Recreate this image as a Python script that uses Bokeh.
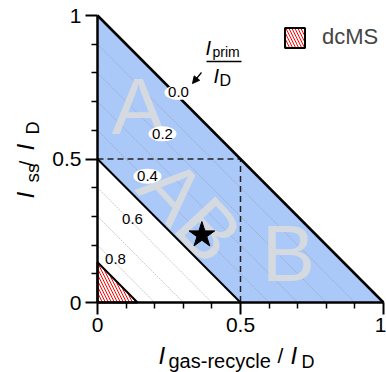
import math
from bokeh.plotting import figure
from bokeh.models import (Range1d, FixedTicker, Label, Legend, LegendItem, Arrow,
                          NormalHead, ColumnDataSource, NumeralTickFormatter)
from bokeh.embed import file_html
from bokeh.resources import INLINE
from bokeh.core.properties import value

# ---------------- data ----------------
axis_ticks = [0, 0.5, 1]
axis_minor_ticks = [0.1, 0.2, 0.3, 0.4, 0.6, 0.7, 0.8, 0.9]
guide_levels = [0.1, 0.2, 0.3, 0.4, 0.6, 0.7, 0.8, 0.9]   # lines x + y = level
band_low = 0.5          # x + y = 0.5 boundary
band_high = 1.0         # x + y = 1 boundary
dcms_limit = 0.14       # dcMS triangle x + y <= 0.14
prim_levels = [0.0, 0.2, 0.4, 0.6, 0.8]   # I_prim / I_D labels
prim_texts = ["0.0", "0.2", "0.4", "0.6", "0.8"]
prim_boxed = [True, True, True, False, False]
star_x = [0.365]
star_y = [0.235]
region_names = ["A", "AB", "B"]

# ---------------- layout helpers ----------------
FONT = "Liberation Sans"
W, H = 386, 372
L0, T0, FW, FH = 97, 15, 286, 287   # where x=0 / y=1 sit on the page, and px per unit
def X(px):
    return (px - L0) / FW
def Y(py):
    return (T0 + FH - py) / FH

p = figure(width=W, height=H, x_range=Range1d(X(0), X(W)), y_range=Range1d(Y(H), Y(0)),
           output_backend="svg", toolbar_location=None, min_border=0)
p.outline_line_color = None
p.xgrid.visible = False
p.ygrid.visible = False
p.background_fill_color = "white"

for ax in (p.xaxis[0], p.yaxis[0]):
    ax.fixed_location = 0
    ax.bounds = (0, 1)
    ax.ticker = FixedTicker(ticks=axis_ticks, minor_ticks=axis_minor_ticks)
    ax.formatter = NumeralTickFormatter(format="0.[0]")
    ax.axis_line_width = 2.5
    ax.axis_line_color = "black"
    ax.major_tick_line_width = 2
    ax.minor_tick_line_width = 1.5
    ax.major_tick_out = 12
    ax.major_tick_in = 0
    ax.minor_tick_out = 6
    ax.minor_tick_in = 0
    ax.major_label_text_font = FONT
    ax.major_label_text_font_size = "21px"
    ax.major_label_text_color = "black"
p.xaxis.major_label_standoff = 3
p.yaxis.major_label_standoff = 4

# blue band between x+y=0.5 and x+y=1
band = ColumnDataSource(dict(x=[0, 0, band_high, band_low], y=[band_low, band_high, 0, 0]))
p.patch("x", "y", source=band, fill_color="#abc9f8", line_color=None)

# guide lines x + y = const
p.multi_line(xs=[[0, v] for v in guide_levels], ys=[[v, 0] for v in guide_levels],
             line_color="#909090", line_width=0.7, line_dash="2 1", line_alpha=0.7)

# big region letters
reg_x = [X(138), X(190), X(288)]
reg_y = [Y(106), Y(210), Y(253)]
reg_a = [0, -math.radians(47), 0]
p.text(x=reg_x, y=reg_y, text=region_names, angle=reg_a, text_font=value(FONT),
       text_font_size="80px", text_color="#dcdcdc", text_alpha=0.85,
       text_align="center", text_baseline="middle")

# dcMS triangle
dcms = ColumnDataSource(dict(x=[0, 0, dcms_limit], y=[0, dcms_limit, 0]))
tri = p.patch("x", "y", source=dcms, fill_color="white", line_color="black", line_width=2,
              hatch_pattern="\\", hatch_color="red", hatch_scale=6, hatch_weight=1)

# dashed box
p.line(x=[0, band_low, band_low], y=[band_low, band_low, 0], line_color="#222222",
       line_width=1.5, line_dash="6 4")

# solid boundaries
p.line(x=[0, band_high], y=[band_high, 0], line_color="black", line_width=2.5)
p.line(x=[0, band_low], y=[band_low, 0], line_color="black", line_width=2)

# I_prim labels
lab_x = [X(178), X(162), X(147), X(132), X(115)]
lab_y = [1 - lv - lx + 0.015 for lv, lx in zip(prim_levels, lab_x)]
bx = [x for x, b in zip(lab_x, prim_boxed) if b]
by = [y for y, b in zip(lab_y, prim_boxed) if b]
p.ellipse(x=bx, y=by, width=28, height=15, width_units="screen", height_units="screen",
          fill_color="white", line_color=None)
p.text(x=lab_x, y=lab_y, text=prim_texts, text_font=value(FONT), text_font_size="15px",
       text_color="black", text_align="center", text_baseline="middle")

# star
p.scatter(x=star_x, y=star_y, marker="star", size=27, fill_color="black", line_color="black")

# fraction annotation I_prim / I_D
p.segment(x0=[X(206)], y0=[Y(61)], x1=[X(241)], y1=[Y(61)], line_color="black", line_width=1.5)
K = 0.32   # empirical baseline correction (fraction of font size)
def lab(text, px, py, size, italic=False, rotated=False):
    if rotated:
        px = px - K * size
    else:
        py = py - K * size
    p.add_layout(Label(x=X(px), y=Y(py), text=text, text_font=FONT, text_font_size=f"{size}px",
                       text_font_style="italic" if italic else "normal", text_color="black",
                       text_align="left", text_baseline="alphabetic",
                       angle=math.pi / 2 if rotated else 0.0))
lab("I", 205, 54, 20, True)
lab("prim", 212, 56, 14)
lab("I", 213, 82, 20, True)
lab("D", 219, 85, 16)
p.add_layout(Arrow(end=NormalHead(size=7, fill_color="black", line_color="black"),
                   x_start=X(201), y_start=Y(72), x_end=X(192), y_end=Y(83),
                   line_color="black", line_width=1.2))

# x axis label
lab("I", 158, 363, 24, True)
lab("gas-recycle", 168, 367, 20)
lab("/", 277, 362, 21)
lab("I", 290, 363, 24, True)
lab("D", 301, 367, 18)

# y axis label (rotated)
lab("I", 33, 198, 24, True, True)
lab("ss", 38, 182, 19, False, True)
lab("/", 33, 166, 21, False, True)
lab("I", 33, 150, 24, True, True)
lab("D", 38, 134, 18, False, True)

# legend
legend = Legend(items=[LegendItem(label="dcMS", renderers=[tri])], location=(282, H - 50),
                orientation="vertical", padding=0, margin=0, spacing=0,
                glyph_width=25, glyph_height=25, label_standoff=15,
                label_text_font=FONT, label_text_font_size="22px", label_height=25,
                border_line_color=None, background_fill_alpha=0)
p.add_layout(legend)

open("out.html", "w").write(file_html(p, INLINE))
